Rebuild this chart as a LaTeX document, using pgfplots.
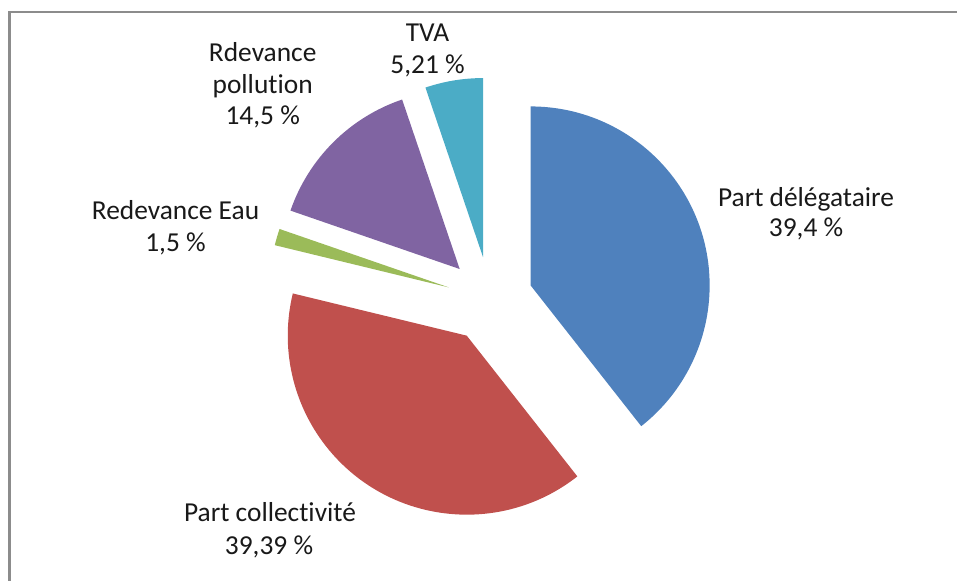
\documentclass[border=0pt]{standalone}
\usepackage{pgfplots}
\pgfplotsset{compat=1.18}
\usepackage{fontspec}
\setmainfont{Carlito}[Ligatures={NoCommon,NoContextual,NoRequired}]
\definecolor{cBlue}{HTML}{4F81BD}
\definecolor{cRed}{HTML}{C0504D}
\definecolor{cGreen}{HTML}{9BBB59}
\definecolor{cPurple}{HTML}{8064A2}
\definecolor{cCyan}{HTML}{4BACC6}
\definecolor{frameGray}{HTML}{8C8C8C}
% pie centre, radius and explosion (in bp = pixels)
\def\cx{490}\def\cy{281.5}\def\rad{179}\def\expl{43}
\def\astart{90}
\newcommand{\slice}[2]{% value (percent), colour
  \pgfmathsetmacro\aend{\astart-3.6*#1}%
  \pgfmathsetmacro\amid{(\astart+\aend)/2}%
  \pgfmathsetmacro\ax{\cx+\expl*cos(\amid)}%
  \pgfmathsetmacro\ay{\cy+\expl*sin(\amid)}%
  \edef\tmp{\noexpand\fill[#2] (axis cs:\ax,\ay) -- ++(\astart:\rad bp) arc[start angle=\astart, end angle=\aend, radius=\rad bp] -- cycle;}%
  \tmp
  \global\let\astart\aend
}
\tikzset{lbl/.style={anchor=base, inner sep=0pt, text=black!90, font=\fontsize{27.5}{31}\selectfont}}
\begin{document}
\begin{tikzpicture}
\begin{axis}[
  scale only axis, width=957bp, height=581bp,
  xmin=0, xmax=957, ymin=0, ymax=581,
  axis lines=none, clip=false,
  ticks=none,
]
\addplot[draw=none, forget plot] coordinates {(0,0) (957,581)};
% data: Part délégataire 39.4, Part collectivité 39.39, Redevance Eau 1.5, Rdevance pollution 14.5, TVA 5.21
\slice{39.4}{cBlue}
\slice{39.39}{cRed}
\slice{1.5}{cGreen}
\slice{14.5}{cPurple}
\slice{5.21}{cCyan}
% frame (top and left visible)
\draw[frameGray, line width=2.6bp] (axis cs:9.5,0) -- (axis cs:9.5,569) -- (axis cs:957,569);
% labels
\node[lbl] at (axis cs:806,374.5) {Part délégataire};
\node[lbl] at (axis cs:806,344.3) {39,4 \%};
\node[lbl] at (axis cs:270,59.3) {Part collectivité};
\node[lbl] at (axis cs:269,27) {39,39 \%};
\node[lbl] at (axis cs:175.5,361) {Redevance Eau};
\node[lbl] at (axis cs:175.5,329.3) {1,5 \%};
\node[lbl] at (axis cs:262.7,519.3) {Rdevance};
\node[lbl] at (axis cs:262.7,487.5) {pollution};
\node[lbl] at (axis cs:262.7,456) {14,5 \%};
\node[lbl] at (axis cs:427.5,539.3) {TVA};
\node[lbl] at (axis cs:427.5,507.7) {5,21 \%};
\end{axis}
\pgfresetboundingbox
\path[use as bounding box] (current axis.south west) rectangle (current axis.north east);
\end{tikzpicture}
\end{document}
